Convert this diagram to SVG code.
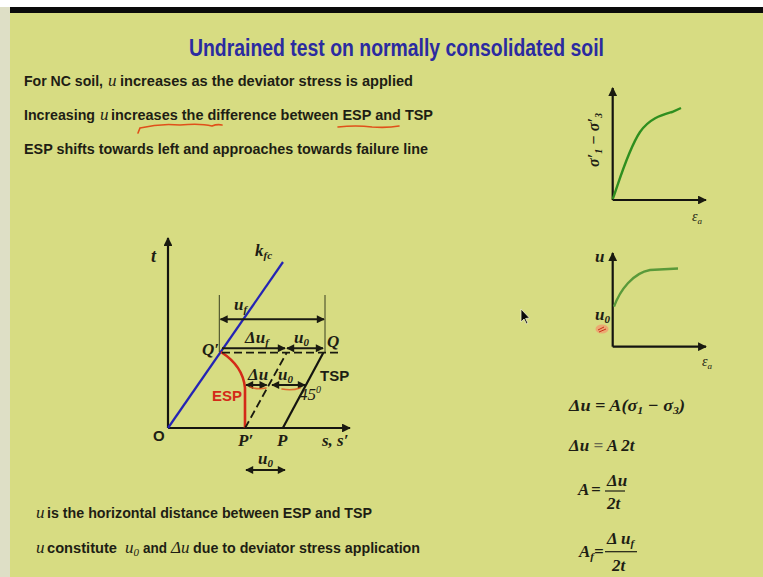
<svg xmlns="http://www.w3.org/2000/svg" width="763" height="577" viewBox="0 0 763 577">
<defs>
<style>
.body{font-family:"Liberation Sans",Arial,sans-serif;font-weight:bold;font-size:15px;fill:#1e1e14}
.mi{font-family:"Liberation Serif","DejaVu Serif",serif;font-style:italic;font-size:17px;fill:#1e1e14}
.math{font-family:"Liberation Serif","DejaVu Serif",serif;font-style:italic;font-weight:bold;font-size:17px;fill:#1e1e14}
.lbl{font-family:"Liberation Sans",Arial,sans-serif;font-weight:bold;font-size:15px;fill:#1e1e14}
.ax{stroke:#141410;stroke-width:2.2;fill:none}
.arr{stroke:#1a1a10;stroke-width:2;fill:none}
.dash{stroke:#1a1a10;stroke-width:1.8;fill:none;stroke-dasharray:8 4}
.thin{stroke:#3a4020;stroke-width:1;fill:none}
.scrib{stroke:#e0501a;stroke-width:1.6;fill:none;stroke-linecap:round}
</style>
<marker id="ah" viewBox="0 0 10 10" refX="9" refY="5" markerWidth="4.5" markerHeight="4" orient="auto-start-reverse">
<path d="M0,0 L10,5 L0,10 z" fill="#1a1a10"/>
</marker>
</defs>

<!-- background -->
<rect x="0" y="0" width="763" height="577" fill="#d7dc82"/>
<rect x="0" y="0" width="763" height="7" fill="#ffffff"/>
<rect x="10" y="7" width="753" height="6" fill="#0a0a0a"/>
<rect x="0" y="7" width="10" height="570" fill="#dedfc6"/>

<!-- title -->
<g id="title">
<text x="189" y="56" textLength="415" lengthAdjust="spacingAndGlyphs" style="font-family:'Liberation Sans',Arial,sans-serif;font-weight:bold;font-size:23px;fill:#2b2ba0">Undrained test on normally consolidated soil</text>
</g>

<!-- top text -->
<g id="text-top">
<text class="body" x="24" y="86" textLength="79" lengthAdjust="spacingAndGlyphs">For NC soil,</text>
<text class="mi" x="108" y="86">u</text>
<text class="body" x="120" y="86" textLength="293" lengthAdjust="spacingAndGlyphs">increases as the deviator stress is applied</text>

<text class="body" x="24" y="120" textLength="71" lengthAdjust="spacingAndGlyphs">Increasing</text>
<text class="mi" x="100" y="120">u</text>
<text class="body" x="111" y="120" textLength="322" lengthAdjust="spacingAndGlyphs">increases the difference between ESP and TSP</text>

<text class="body" x="24" y="154" textLength="404" lengthAdjust="spacingAndGlyphs">ESP shifts towards left and approaches towards failure line</text>
<path class="scrib" d="M138,133 L140,128 Q160,123 180,125 Q200,123 212,126 Q217,124 222,125"/>
<path class="scrib" d="M338,127 Q356,125 372,127 Q388,128 399,126"/>
</g>

<!-- bottom text -->
<g id="text-bottom">
<text class="mi" x="36" y="518">u</text>
<text class="body" x="47" y="518" textLength="325" lengthAdjust="spacingAndGlyphs">is the horizontal distance between ESP and TSP</text>

<text class="mi" x="36" y="553">u</text>
<text class="body" x="47" y="553" textLength="70" lengthAdjust="spacingAndGlyphs">constitute</text>
<text class="mi" x="125" y="553">u<tspan style="font-size:11px" dy="3">0</tspan></text>
<text class="body" x="143" y="553" textLength="24" lengthAdjust="spacingAndGlyphs">and</text>
<text class="mi" x="171" y="553">Δu</text>
<text class="body" x="193" y="553" textLength="227" lengthAdjust="spacingAndGlyphs">due to deviator stress application</text>
</g>

<!-- stress path diagram -->
<g id="stress-path-diagram">
<g id="axes">
<line class="ax" x1="168" y1="428" x2="168" y2="238" marker-end="url(#ah)"/>
<line class="ax" x1="168" y1="428" x2="350" y2="428" marker-end="url(#ah)"/>
<text class="math" x="151" y="262" style="font-size:18px">t</text>
<text class="lbl" x="153" y="441">O</text>
<text class="math" x="238" y="446">P′</text>
<text class="math" x="277" y="446">P</text>
<text class="math" x="322" y="446">s, s′</text>
</g>
<g id="kfc-line">
<line x1="168" y1="428" x2="283" y2="262" stroke="#2424b4" stroke-width="2.2"/>
<text class="math" x="255" y="256">k<tspan style="font-size:11px" dy="3">fc</tspan></text>
</g>
<g id="tsp">
<line x1="282.7" y1="428.3" x2="323.3" y2="352.7" stroke="#141410" stroke-width="2.2"/>
<text class="lbl" x="320" y="381">TSP</text>
<text class="math" x="299" y="400" style="font-weight:normal">45<tspan style="font-size:10px" dy="-7">0</tspan></text>
</g>
<g id="esp">
<path d="M221,352 Q243,366 245,388 L245,428" stroke="#d42a18" stroke-width="2.6" fill="none"/>
<text class="lbl" x="212" y="401" style="fill:#d42a18">ESP</text>
</g>
<g id="points">
<text class="math" x="202" y="355">Q′</text>
<text class="math" x="327" y="347">Q</text>
</g>
<g id="connectors">
<line class="dash" x1="222" y1="352.7" x2="338" y2="352.7"/>
<line class="dash" x1="245" y1="428.3" x2="286.7" y2="352.7"/>
<line class="thin" x1="219.3" y1="295" x2="219.3" y2="352"/>
<line class="thin" x1="325" y1="295" x2="325" y2="352"/>
<line class="arr" x1="220.5" y1="319.3" x2="324" y2="319.3" stroke-width="2.6" marker-start="url(#ah)" marker-end="url(#ah)"/>
<line class="arr" x1="222" y1="348.3" x2="285" y2="348.3" marker-end="url(#ah)"/>
<line class="arr" x1="287" y1="348.3" x2="323" y2="348.3" marker-start="url(#ah)" marker-end="url(#ah)"/>
<line class="arr" x1="246" y1="385" x2="266.7" y2="385" marker-start="url(#ah)" marker-end="url(#ah)"/>
<line class="arr" x1="272" y1="385" x2="305" y2="385" marker-start="url(#ah)" marker-end="url(#ah)"/>
<line class="arr" x1="246" y1="470" x2="285" y2="470" marker-start="url(#ah)" marker-end="url(#ah)"/>
<path class="scrib" d="M250,387 Q258,390 266,388" stroke-width="1.3" opacity="0.8"/>
<path class="scrib" d="M282,389 Q292,391 300,388" stroke-width="1.3" opacity="0.8"/>
</g>
<g id="labels">
<text class="math" x="234" y="310">u<tspan style="font-size:11px" dy="3">f</tspan></text>
<text class="math" x="245" y="343">Δu<tspan style="font-size:11px" dy="3">f</tspan></text>
<text class="math" x="294" y="343">u<tspan style="font-size:11px" dy="3">0</tspan></text>
<text class="math" x="248" y="380">Δu</text>
<text class="math" x="278" y="380">u<tspan style="font-size:11px" dy="3">0</tspan></text>
<text class="math" x="258" y="464">u<tspan style="font-size:11px" dy="3">0</tspan></text>
</g>
</g>

<!-- stress-strain graph -->
<g id="graph-deviator">
<line class="ax" x1="612.7" y1="200" x2="612.7" y2="88" marker-end="url(#ah)"/>
<line class="ax" x1="612.7" y1="200" x2="706" y2="200" marker-end="url(#ah)"/>
<path d="M612.7,199 C618,185 628,150 640,132 C650,118 662,115 672,112 L681,108" stroke="#2f8f1f" stroke-width="2.4" fill="none"/>
<text class="math" transform="translate(599,140) rotate(-90)" text-anchor="middle" style="font-size:16px">σ′<tspan style="font-size:10px" dy="3">1</tspan><tspan dy="-3"> − σ′</tspan><tspan style="font-size:10px" dy="3">3</tspan></text>
<text class="math" x="692" y="221" style="font-size:14px;font-weight:normal">ε<tspan style="font-size:9px" dy="3">a</tspan></text>
</g>

<!-- pore pressure graph -->
<g id="graph-pore">
<line class="ax" x1="612.7" y1="346.7" x2="612.7" y2="253" marker-end="url(#ah)"/>
<line class="ax" x1="612.7" y1="346.7" x2="706" y2="346.7" marker-end="url(#ah)"/>
<path d="M614,306.7 C620,290 633,273 650,270 L678,268.5" stroke="#5a9a3a" stroke-width="2.4" fill="none"/>
<text class="math" x="595" y="262">u</text>
<text class="math" x="595" y="320">u<tspan style="font-size:11px" dy="3">0</tspan></text>
<ellipse cx="602" cy="329" rx="6.5" ry="4.5" fill="#f0a070" opacity="0.85"/>
<path d="M598,330 L604,327 M599,332 L606,329" stroke="#c83018" stroke-width="1" fill="none"/>
<text class="math" x="702" y="366" style="font-size:14px;font-weight:normal">ε<tspan style="font-size:9px" dy="3">a</tspan></text>
</g>

<!-- equations -->
<g id="equations">
<text class="math" x="569" y="411" textLength="116" lengthAdjust="spacingAndGlyphs">Δu = A(σ<tspan style="font-size:11px" dy="3">1</tspan><tspan dy="-3"> − σ</tspan><tspan style="font-size:11px" dy="3">3</tspan><tspan dy="-3">)</tspan></text>
<text class="math" x="569" y="451">Δu <tspan style="fill:#6a6a50">=</tspan> A 2t</text>
<text class="math" x="578" y="495">A</text>
<text class="math" x="591" y="495">=</text>
<text class="math" x="607" y="486">Δu</text>
<line x1="605" y1="491" x2="625" y2="491" stroke="#1e1e14" stroke-width="1.2"/>
<text class="math" x="607" y="509">2t</text>
<text class="math" x="579" y="557">A<tspan style="font-size:11px" dy="3">f</tspan></text>
<text class="math" x="594" y="557">=</text>
<text class="math" x="607" y="544">Δ u<tspan style="font-size:11px" dy="3">f</tspan></text>
<line x1="605" y1="551.7" x2="637" y2="551.7" stroke="#1e1e14" stroke-width="1.2"/>
<text class="math" x="612" y="571">2t</text>
</g>

<!-- mouse cursor -->
<g id="cursor">
<path d="M521,309 L521,322 L524,319 L526.5,324 L528,323.3 L525.6,318.5 L529.5,318 z" fill="#0a0a0a" stroke="#f0f0d0" stroke-width="0.8"/>
</g>
</svg>
